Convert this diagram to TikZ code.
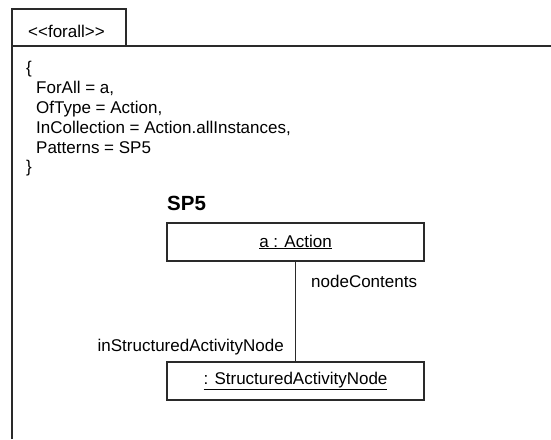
\documentclass[tikz,border=0pt]{standalone}
\usepackage{fontspec}
\setmainfont{Liberation Sans}
\definecolor{ink}{HTML}{2A2A2A}
\begin{document}
\begin{tikzpicture}[x=1pt,y=-1pt,
  frameline/.style={draw=ink, line width=1.5pt},
  objbox/.style={draw=ink, line width=1.5pt, minimum width=257pt,
    minimum height=38pt, inner sep=0pt, fill=white,
    font=\fontsize{17}{20}\selectfont},
  txt/.style={inner sep=0pt, anchor=base west, font=\fontsize{17}{20}\selectfont},
  title/.style={inner sep=0pt, anchor=base west, font=\fontsize{20.5}{24}\selectfont\bfseries}]
\useasboundingbox (0,0) rectangle (551,439);

% outer frame with its name tab
\draw[frameline] (12,439) -- (12,9) -- (126,9) -- (126,46);
\draw[frameline] (12,46) -- (551,46);
\node[txt] (stereo) at (28,37) {<{}<forall>{}>};

% body of the constraint
\node[txt] (lb)   at (26,73)  {\{};
\node[txt] (l1)   at (36,93)  {ForAll = a,};
\node[txt] (l2)   at (36,113) {OfType = Action,};
\node[txt] (l3)   at (36,133) {InCollection = Action.allInstances,};
\node[txt] (l4)   at (36,153) {Patterns = SP5};
\node[txt] (rb)   at (26,172) {\}};

% pattern SP5
\node[title] (sp5) at (167,210) {SP5};
\node[objbox] (act) at (295.5,242) {\underline{a : Action}};
\node[objbox] (san) at (295.5,381) {\underline{: StructuredActivityNode}};
\draw[frameline] (act) -- (san);
\node[txt] (ends) at (311,287) {nodeContents};
\node[txt, anchor=base east] (endt) at (284,351) {inStructuredActivityNode};
\end{tikzpicture}
\end{document}
